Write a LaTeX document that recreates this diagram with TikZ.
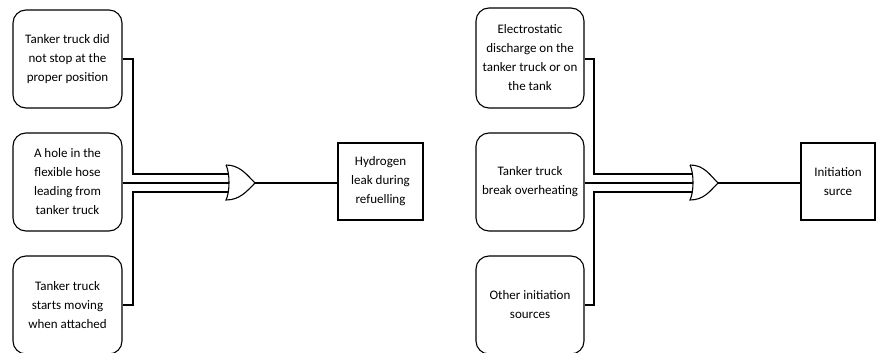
\documentclass[tikz,border=0pt]{standalone}
\usepackage{fontspec}
\setmainfont{Carlito}
\begin{document}
\begin{tikzpicture}[x=1pt,y=-1pt,line width=1.1pt,
  ev/.style={draw,rounded corners=13pt,align=center,font=\fontsize{13}{19}\selectfont,inner sep=0pt},
  top/.style={draw,align=center,font=\fontsize{13}{19}\selectfont,inner sep=0pt},
  wire/.style={line width=1.1pt}]
\useasboundingbox (0,0) rectangle (876,353);
\clip (0,0) rectangle (876,353);
% ---------- left tree ----------
\node[ev,minimum width=109pt,minimum height=98pt] (a1) at (67.5,59) {Tanker truck did\\not stop at the\\proper position};
\node[ev,minimum width=109pt,minimum height=98pt] (a2) at (67.5,182) {A hole in the\\flexible hose\\leading from\\tanker truck};
\node[ev,minimum width=109pt,minimum height=98pt] (a3) at (67.5,305) {Tanker truck\\starts moving\\when attached};
\node[top,minimum width=85pt,minimum height=77pt] (ta) at (380.5,181.5) {Hydrogen\\leak during\\refuelling};
\coordinate (ga) at (227,183);
\draw (ga)++(-1,-18) .. controls +(4,8) and +(4,-8) .. ++(0,35)
      .. controls +(14,0) and +(-8,8) .. (255,183)
      .. controls +(-8,-8) and +(14,0) .. (226,165);
\coordinate (gaout) at (255,183);
\draw[wire] (a1.east |- 0,59) -- (133,59) -- (133,174) -- (228,174);
\draw[wire] (a2.east |- 0,183) -- (229,183);
\draw[wire] (a3.east |- 0,305) -- (133,305) -- (133,192) -- (228,192);
\draw[wire] (gaout) -- (ta.west |- gaout);
% ---------- right tree ----------
\node[ev,minimum width=108pt,minimum height=100pt] (b1) at (530,58) {Electrostatic\\discharge on the\\tanker truck or on\\the tank};
\node[ev,minimum width=108pt,minimum height=98pt] (b2) at (530,182) {Tanker truck\\break overheating};
\node[ev,minimum width=108pt,minimum height=98pt] (b3) at (530,305) {Other initiation\\sources};
\node[top,minimum width=74pt,minimum height=77pt] (tb) at (838,181.5) {Initiation\\surce};
\draw (690,165) .. controls +(4,8) and +(4,-8) .. (690,200)
      .. controls +(14,0) and +(-8,8) .. (718,183)
      .. controls +(-8,-8) and +(14,0) .. (690,165);
\coordinate (gbout) at (718,183);
\draw[wire] (b1.east |- 0,59) -- (594,59) -- (594,174) -- (692,174);
\draw[wire] (b2.east |- 0,183) -- (693,183);
\draw[wire] (b3.east |- 0,305) -- (594,305) -- (594,192) -- (692,192);
\draw[wire] (gbout) -- (tb.west |- gbout);
\end{tikzpicture}
\end{document}
